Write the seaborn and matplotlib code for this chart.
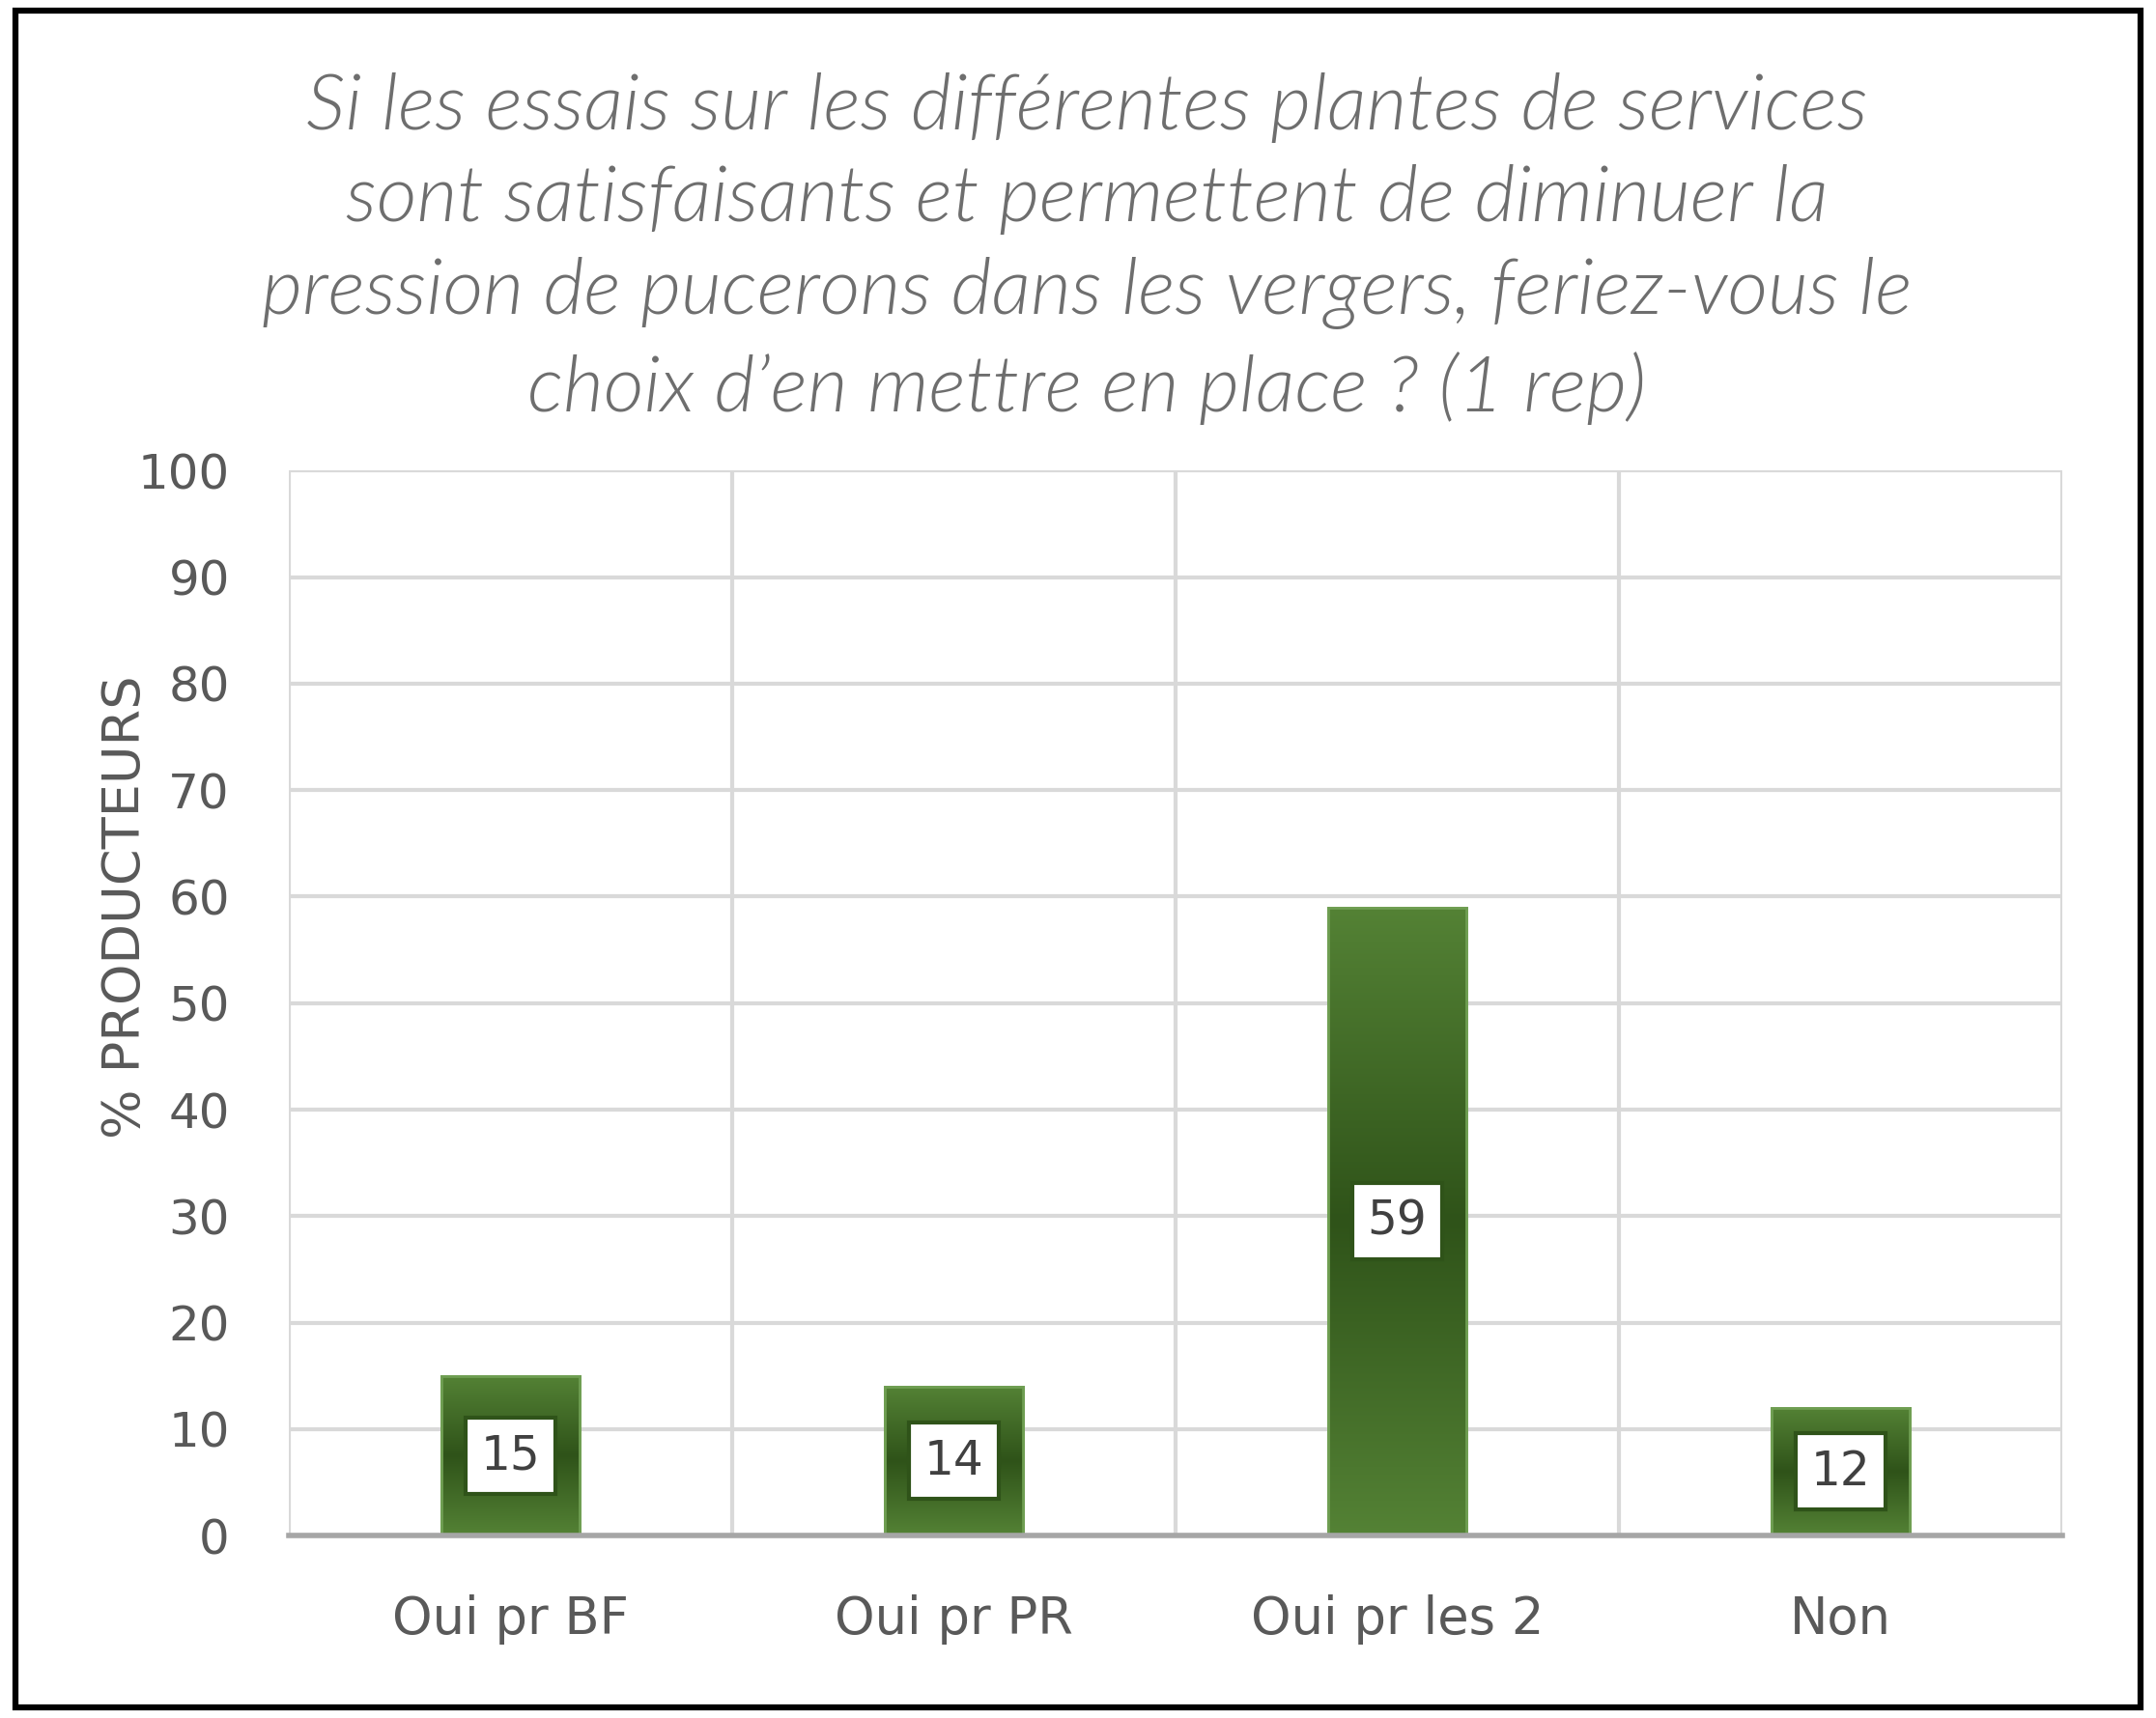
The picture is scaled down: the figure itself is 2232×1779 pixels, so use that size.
import numpy as np
import matplotlib
matplotlib.use('Agg')
import matplotlib.pyplot as plt
import seaborn as sns
from matplotlib.colors import LinearSegmentedColormap
from matplotlib.patches import Rectangle

# données
categories = ['Oui pr BF', 'Oui pr PR', 'Oui pr les 2', 'Non']
valeurs = [15, 14, 59, 12]
titre = ("Si les essais sur les différentes plantes de services\n"
         "sont satisfaisants et permettent de diminuer la\n"
         "pression de pucerons dans les vergers, feriez-vous le\n"
         "choix d\u2019en mettre en place ? (1 rep)")
ylabel = '% PRODUCTEURS'
yticks = list(range(0, 101, 10))

sns.set_theme(style='white')
plt.rcParams['font.family'] = ['DejaVu Sans']

fig = plt.figure(figsize=(22.32, 17.79), dpi=100)
ax = fig.add_axes([0.134, 0.1062, 0.8226, 0.6198])

sns.barplot(x=categories, y=valeurs, color='#4a7a2c', width=0.31,
            edgecolor='#6f9e52', linewidth=2, ax=ax, zorder=3)

# dégradé vertical dans les barres
cmap = LinearSegmentedColormap.from_list('vert', ['#548235', '#2f5319', '#548235'])
grad = np.linspace(0, 1, 256).reshape(-1, 1)
for p in ax.patches:
    x0, y0, w, h = p.get_x(), p.get_y(), p.get_width(), p.get_height()
    im = ax.imshow(grad, extent=[x0, x0 + w, y0, y0 + h], origin='lower',
                   aspect='auto', cmap=cmap, zorder=3.5)
    im.set_clip_path(p)
    ax.add_patch(Rectangle((x0, y0), w, h, fill=False, ec='#6f9e52', lw=2, zorder=3.6))

# étiquettes de valeurs
for i, v in enumerate(valeurs):
    ax.text(i, v / 2, str(v), ha='center', va='center', fontsize=35, color='#404040',
            zorder=5,
            bbox=dict(boxstyle='square,pad=0.32', fc='white', ec='#2f5319', lw=3))

ax.set_xlim(-0.5, 3.5)
ax.set_ylim(0, 100)
ax.set_yticks(yticks)
ax.set_xticks(np.arange(-0.5, 4, 1), minor=True)
ax.grid(True, which='minor', axis='x', color='#d9d9d9', lw=3, zorder=0)
ax.grid(True, which='major', axis='y', color='#d9d9d9', lw=3, zorder=0)
ax.grid(False, which='major', axis='x')
for s in ['top', 'right', 'left']:
    ax.spines[s].set_visible(False)
ax.spines['bottom'].set_color('#a6a6a6')
ax.spines['bottom'].set_linewidth(4)
ax.spines['bottom'].set_zorder(4)
ax.tick_params(axis='y', which='both', length=0, pad=44, labelsize=36, labelcolor='#595959')
ax.tick_params(axis='x', which='both', length=0, pad=44, labelsize=38, labelcolor='#595959')
ax.set_xlabel('')
ax.set_ylabel(ylabel, fontsize=39, color='#595959')
ax.yaxis.set_label_coords(-0.078, 0.59)

fig.text(0.504, 0.958, titre, ha='center', va='top', fontsize=58.5, style='italic',
         fontweight=300, color='#6e6e6e', linespacing=1.38,
         family=['Lato', 'DejaVu Sans'])

# cadre noir
fig.patches.append(Rectangle((0.007, 0.006), 0.986, 0.988, transform=fig.transFigure,
                             fill=False, ec='black', lw=4.5, zorder=10))

plt.savefig('out.png', dpi=100)
plt.close()
